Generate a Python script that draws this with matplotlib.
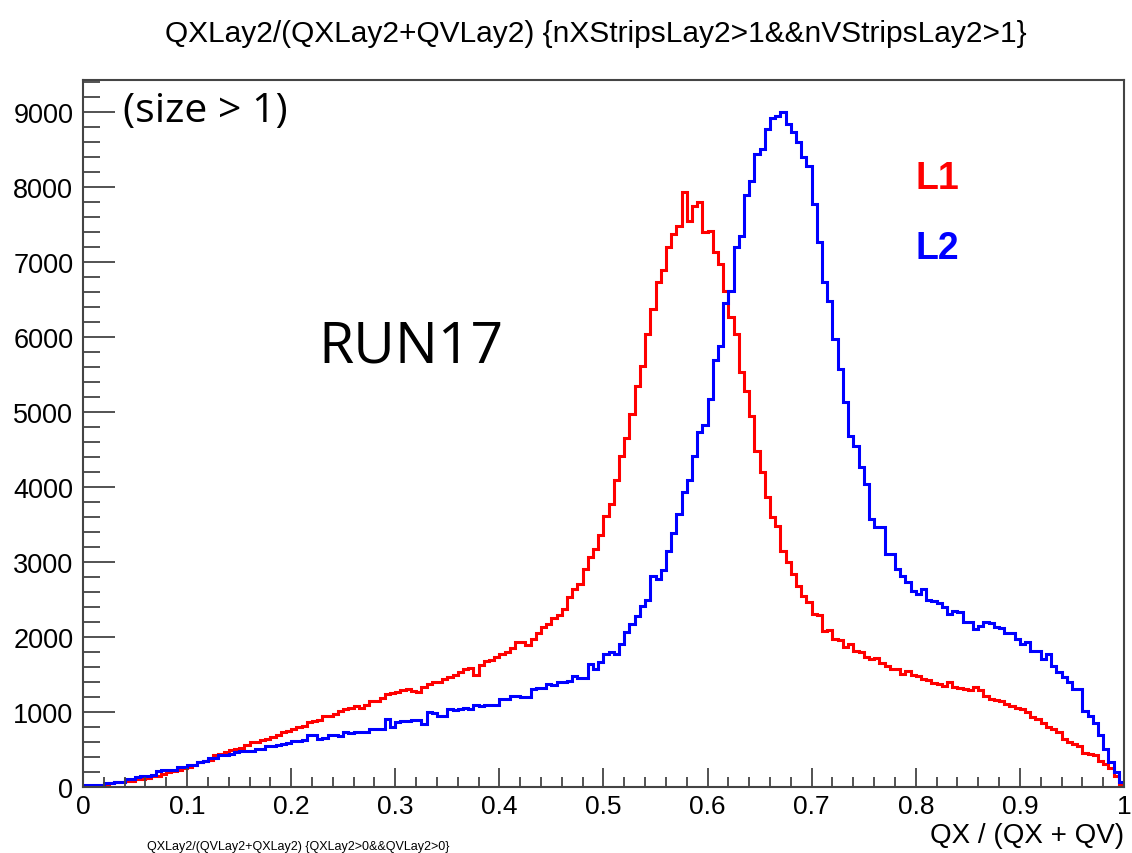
import numpy as np
import matplotlib
matplotlib.use("Agg")
import matplotlib.pyplot as plt
from matplotlib.ticker import MultipleLocator

# 200 bins from 0 to 1
bin_edges = np.linspace(0.0, 1.0, 201)

# L1 (red) counts per bin
l1_counts = [
    10, 10, 15, 15, 20, 55, 60, 60, 75, 80,
    100, 110, 125, 150, 150, 170, 200, 215, 230, 255,
    265, 290, 330, 350, 355, 430, 440, 460, 490, 505,
    520, 560, 600, 600, 630, 640, 665, 700, 730, 745,
    775, 800, 820, 865, 880, 900, 950, 950, 980, 1010,
    1040, 1050, 1080, 1060, 1100, 1150, 1150, 1190, 1240, 1250,
    1270, 1300, 1305, 1280, 1265, 1340, 1370, 1400, 1400, 1440,
    1465, 1490, 1540, 1570, 1590, 1500, 1630, 1680, 1700, 1740,
    1770, 1800, 1850, 1930, 1940, 1900, 1970, 2050, 2130, 2180,
    2250, 2300, 2380, 2530, 2640, 2710, 2910, 3070, 3170, 3360,
    3610, 3770, 4100, 4420, 4660, 4970, 5350, 5610, 6040, 6370,
    6730, 6900, 7200, 7370, 7480, 7930, 7550, 7750, 7800, 7400,
    7420, 7130, 6970, 6610, 6270, 6040, 5530, 5280, 4950, 4480,
    4200, 3870, 3600, 3480, 3150, 3000, 2840, 2680, 2550, 2470,
    2310, 2290, 2080, 2100, 1970, 1960, 1870, 1910, 1820, 1800,
    1730, 1710, 1720, 1660, 1620, 1580, 1580, 1510, 1550, 1500,
    1480, 1440, 1430, 1390, 1380, 1350, 1400, 1330, 1320, 1310,
    1300, 1330, 1300, 1210, 1170, 1160, 1150, 1110, 1080, 1060,
    1040, 1000, 930, 910, 860, 800, 770, 730, 640, 600,
    570, 550, 450, 440, 420, 350, 300, 250, 150, 40,
]

# L2 (blue) counts per bin
l2_counts = [
    20, 25, 25, 30, 55, 55, 60, 60, 105, 110,
    130, 140, 150, 155, 215, 220, 230, 225, 265, 270,
    290, 295, 330, 340, 385, 390, 420, 420, 440, 460,
    480, 480, 480, 505, 505, 550, 550, 560, 570, 580,
    610, 620, 625, 690, 690, 640, 650, 700, 700, 680,
    730, 720, 735, 730, 740, 770, 775, 770, 910, 800,
    870, 880, 880, 900, 900, 840, 1000, 985, 950, 950,
    1040, 1030, 1040, 1050, 1040, 1090, 1080, 1090, 1100, 1090,
    1170, 1180, 1220, 1220, 1200, 1200, 1310, 1320, 1320, 1370,
    1360, 1400, 1400, 1420, 1480, 1450, 1450, 1640, 1570, 1670,
    1770, 1800, 1770, 1910, 2070, 2170, 2280, 2410, 2500, 2810,
    2770, 2900, 3150, 3390, 3640, 3930, 4100, 4420, 4730, 4830,
    5170, 5700, 5880, 6460, 6610, 7200, 7350, 7900, 8080, 8440,
    8510, 8770, 8920, 8950, 9000, 8840, 8730, 8600, 8400, 8280,
    7770, 7270, 6730, 6480, 5970, 5570, 5130, 4680, 4550, 4270,
    4040, 3570, 3470, 3470, 3110, 3110, 2910, 2810, 2730, 2610,
    2570, 2640, 2500, 2480, 2460, 2400, 2310, 2350, 2340, 2200,
    2200, 2110, 2150, 2200, 2190, 2130, 2120, 2060, 2050, 1970,
    1910, 1930, 1820, 1820, 1710, 1770, 1620, 1530, 1470, 1400,
    1310, 1310, 1020, 950, 860, 690, 510, 330, 200, 60,
]

x_tick_vals = [0, 0.1, 0.2, 0.3, 0.4, 0.5, 0.6, 0.7, 0.8, 0.9, 1]
x_tick_labels = ["0", "0.1", "0.2", "0.3", "0.4", "0.5", "0.6", "0.7", "0.8", "0.9", "1"]
y_tick_vals = [0, 1000, 2000, 3000, 4000, 5000, 6000, 7000, 8000, 9000]

plt.rcParams['font.family'] = ['Liberation Sans', 'DejaVu Sans']

fig = plt.figure(figsize=(11.32, 8.54), dpi=100)
ax = fig.add_axes([0.0733, 0.0773, 0.9196, 0.8279])

ax.stairs(l1_counts, bin_edges, baseline=0, color='#ff0000', lw=2.2)
ax.stairs(l2_counts, bin_edges, baseline=0, color='#0000ff', lw=2.2)

ax.set_xlim(0, 1)
ax.set_ylim(0, 9430)

ax.set_xticks(x_tick_vals)
ax.set_xticklabels(x_tick_labels)
ax.set_yticks(y_tick_vals)
ax.xaxis.set_minor_locator(MultipleLocator(0.02))
ax.yaxis.set_minor_locator(MultipleLocator(200))

axis_col = '#444444'
for s in ax.spines.values():
    s.set_color(axis_col)
    s.set_linewidth(1.5)
ax.tick_params(axis='x', which='major', direction='in', length=14, width=1.3,
               color=axis_col, labelsize=19, pad=5)
ax.tick_params(axis='x', which='minor', direction='in', length=7, width=1.3, color=axis_col)
ax.tick_params(axis='y', which='major', direction='in', length=23, width=1.3,
               color=axis_col, labelsize=19.5, pad=7)
ax.tick_params(axis='y', which='minor', direction='in', length=12, width=1.3, color=axis_col)

fig.text(0.526, 0.960, "QXLay2/(QXLay2+QVLay2) {nXStripsLay2>1&&nVStripsLay2>1}",
         ha='center', va='center', fontsize=21.5)

fig.text(0.993, 0.0215, "QX / (QX + QV)", ha='right', va='center', fontsize=20)

fig.text(0.13, 0.001, "QXLay2/(QVLay2+QXLay2) {QXLay2>0&&QVLay2>0}",
         ha='left', va='bottom', fontsize=9)

ax.text(0.038, 0.956, "(size > 1)", transform=ax.transAxes, ha='left', va='center',
        fontsize=29.5, family=['Open Sans', 'DejaVu Sans'])
ax.text(0.226, 0.622, "RUN17", transform=ax.transAxes, ha='left', va='center',
        fontsize=41, family=['Open Sans', 'DejaVu Sans'])

ax.text(0.800, 0.862, "L1", transform=ax.transAxes, ha='left', va='center',
        fontsize=27, fontweight='bold', color='#ff0000')
ax.text(0.800, 0.762, "L2", transform=ax.transAxes, ha='left', va='center',
        fontsize=27, fontweight='bold', color='#0000ff')

fig.savefig("out.png", dpi=100)
